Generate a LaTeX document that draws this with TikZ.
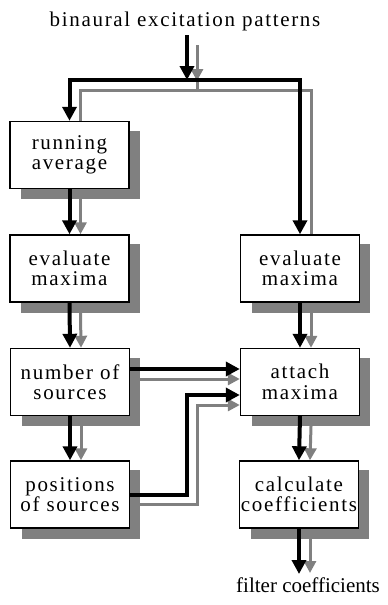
\documentclass[tikz,border=0pt]{standalone}
\usepackage{fontspec}
\setmainfont{Liberation Serif}[LetterSpace=8.0]
\newfontfamily\plainserif{Liberation Serif}
\usetikzlibrary{arrows.meta,calc}
\pgfdeclarelayer{bg}
\pgfsetlayers{bg,main}
\begin{document}
\begin{tikzpicture}[x=1pt,y=-1pt,
  txt/.style={font=\fontsize{21}{20.5}\selectfont, inner sep=0pt},
  boxnode/.style={txt, draw, line width=1.4pt, fill=white, minimum width=119pt,
    minimum height=67pt, align=center},
  conn/.style={line width=4pt, line join=miter, -{Triangle[width=14pt,length=14pt]}},
  shadowline/.style={draw=black!50, line width=3pt, line join=miter},
  shadowarrow/.style={shadowline, -{Triangle[width=12pt,length=12pt,color=black!50]}},
  boxshadow/.style={fill=black!50}
]
\useasboundingbox (0,0) rectangle (388,605);

% texts
\node[txt, anchor=base] (title) at (185,27) {binaural excitation patterns};
\node[txt, anchor=base west, font=\plainserif\fontsize{21}{20.5}\selectfont] (outtxt) at (236,592) {filter coefficients};

% boxes
\node[boxnode] (RA)  at (69.5,155)   {running\\average};
\node[boxnode] (EM1) at (69.5,268.5) {evaluate\\maxima};
\node[boxnode] (NS)  at (70,382)     {number of\\sources};
\node[boxnode] (PS)  at (70,494.5)   {positions\\of sources};
\node[boxnode] (EM2) at (300,268.5)  {evaluate\\maxima};
\node[boxnode] (AM)  at (300,382)    {attach\\maxima};
\node[boxnode] (CC)  at (299,494.5)  {calculate\\coefficients};

% helper coordinates
\coordinate (in) at (187,35);
\coordinate (split) at (187,80);
\coordinate (ins) at (197,45);
\coordinate (insTip) at (197,81);
\coordinate (insEnd) at (197,90);
\coordinate (j) at (187,0);
\coordinate (js) at (197,0);
\coordinate (out) at (299,574);
\coordinate (a1) at ([shift={(0,-13)}]AM.west);
\coordinate (a1s) at ([shift={(0,-3)}]AM.west);
\coordinate (a2) at ([shift={(0,13)}]AM.west);
\coordinate (a2s) at ([shift={(0,23)}]AM.west);

\begin{pgfonlayer}{bg}
  % box shadows
  \foreach \n in {RA,EM1,NS,PS,EM2,AM,CC}{
    \fill[boxshadow] ([shift={(12,10)}]\n.north west) rectangle ([shift={(10,10)}]\n.south east);
  }
  % connector shadows
  \draw[shadowarrow] (ins) -- (insTip);
  \draw[shadowline] (insTip) -- (insEnd);
  \draw[shadowline] (insEnd) -| ([shift={(11,0)}]RA.north);
  \draw[shadowline] (insEnd) -| ([shift={(11,0)}]EM2.north);
  \draw[shadowarrow] ([shift={(11,10)}]RA.south) -- ([shift={(11,0)}]EM1.north);
  \draw[shadowarrow] ([shift={(11,10)}]EM1.south) -- ([shift={(11,0)}]NS.north);
  \draw[shadowarrow] ([shift={(11,10)}]NS.south) -- ([shift={(11,0)}]PS.north);
  \draw[shadowarrow] ([shift={(11,10)}]EM2.south) -- ([shift={(11,0)}]AM.north);
  \draw[shadowarrow] ([shift={(11,10)}]AM.south) -- ([shift={(11,0)}]CC.north);
  \draw[shadowarrow] ([shift={(10,-3)}]NS.east) -- (a1s);
  \draw[shadowarrow] ([shift={(10,10)}]PS.east) -| (js |- a2s) -- (a2s);
  \draw[shadowarrow] ([shift={(11,10)}]CC.south) -- ([shift={(11,-1)}]out);
\end{pgfonlayer}

% black connectors
\draw[conn] (in) -- (split);
\draw[conn] (split) -| (RA.north);
\draw[conn] (split) -| (EM2.north);
\draw[conn] (RA.south) -- (EM1.north);
\draw[conn] (EM1.south) -- (NS.north);
\draw[conn] (NS.south) -- (PS.north);
\draw[conn] (EM2.south) -- (AM.north);
\draw[conn] (AM.south) -- (CC.north);
\draw[conn] ([shift={(0,-13)}]NS.east) -- (a1);
\draw[conn] (PS.east) -| (j |- a2) -- (a2);
\draw[conn] (CC.south) -- (out);
\end{tikzpicture}
\end{document}
